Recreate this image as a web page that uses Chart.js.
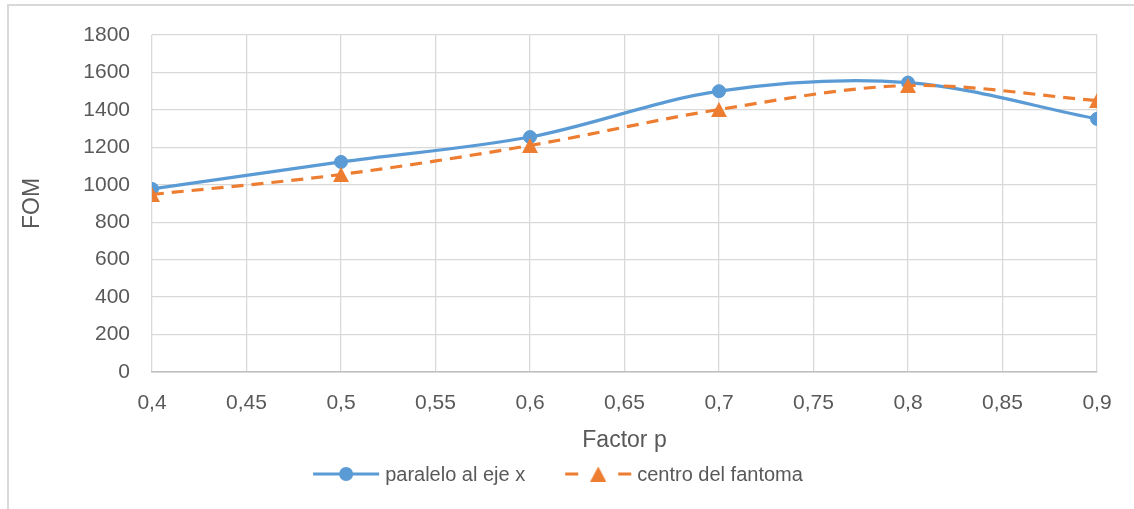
<!DOCTYPE html>
<html>
<head>
<meta charset="utf-8">
<script src="https://cdn.jsdelivr.net/npm/chart.js@4/dist/chart.umd.min.js"></script>
<style>
  html, body { margin: 0; padding: 0; background: #ffffff; }
  #wrap { position: relative; width: 1134px; height: 509px; }
</style>
</head>
<body>
<div id="wrap"><canvas id="fomChart" width="1134" height="509"></canvas></div>
<script>
// Factor p values and figure of merit for both phantom positions
const factorP = [0.4, 0.5, 0.6, 0.7, 0.8, 0.9];
const fomParalelo = [978, 1122, 1255, 1500, 1546, 1352];
const fomCentro = [948, 1055, 1210, 1402, 1530, 1450];
const seriesNames = ['paralelo al eje x', 'centro del fantoma'];
const xAxisTitle = 'Factor p';
const yAxisTitle = 'FOM';

const BLUE = '#5B9BD5';
const ORANGE = '#ED7D31';
const TEXT = '#595959';
const GRID = '#d9d9d9';
const FONT = "'Liberation Sans', Arial, sans-serif";

// Triangle marker centred on its bounding box
function makeTriangle(w, h, color) {
  const c = document.createElement('canvas');
  c.width = w; c.height = h;
  const g = c.getContext('2d');
  g.fillStyle = color;
  g.beginPath();
  g.moveTo(w / 2, 0);
  g.lineTo(w, h);
  g.lineTo(0, h);
  g.closePath();
  g.fill();
  return c;
}
const triangle = makeTriangle(16, 15, ORANGE);

const toPoints = (xs, ys) => xs.map((x, i) => ({ x: x, y: ys[i] }));

// Outer frame of the chart
const framePlugin = {
  id: 'frame',
  beforeDraw(chart) {
    const ctx = chart.ctx;
    ctx.save();
    ctx.fillStyle = '#ffffff';
    ctx.fillRect(0, 0, chart.width, chart.height);
    ctx.strokeStyle = GRID;
    ctx.lineWidth = 2;
    ctx.strokeRect(8, 5, chart.width + 10, chart.height + 10);
    ctx.restore();
  }
};

// Legend with line + marker samples, centred under the plot
const lineLegend = {
  id: 'lineLegend',
  afterDraw(chart) {
    const ctx = chart.ctx;
    const y = 474;
    const sampleW = 66, textGap = 6, itemGap = 40;
    ctx.save();
    ctx.font = '20px ' + FONT;
    ctx.textBaseline = 'middle';
    ctx.textAlign = 'left';
    const w0 = ctx.measureText(seriesNames[0]).width;
    const w1 = ctx.measureText(seriesNames[1]).width;
    const total = sampleW + textGap + w0 + itemGap + sampleW + textGap + w1;
    let x = 558 - total / 2;

    // solid blue sample
    ctx.strokeStyle = BLUE;
    ctx.lineWidth = 3;
    ctx.beginPath();
    ctx.moveTo(x, y);
    ctx.lineTo(x + sampleW, y);
    ctx.stroke();
    ctx.fillStyle = BLUE;
    ctx.beginPath();
    ctx.arc(x + sampleW / 2, y, 7, 0, Math.PI * 2);
    ctx.fill();
    x += sampleW + textGap;
    ctx.fillStyle = TEXT;
    ctx.fillText(seriesNames[0], x, y + 1);
    x += w0 + itemGap;

    // dashed orange sample
    ctx.strokeStyle = ORANGE;
    ctx.lineWidth = 3;
    ctx.beginPath();
    ctx.moveTo(x, y); ctx.lineTo(x + 13, y);
    ctx.moveTo(x + sampleW - 13, y); ctx.lineTo(x + sampleW, y);
    ctx.stroke();
    ctx.drawImage(triangle, x + sampleW / 2 - triangle.width / 2, y - triangle.height / 2);
    x += sampleW + textGap;
    ctx.fillStyle = TEXT;
    ctx.fillText(seriesNames[1], x, y + 1);
    ctx.restore();
  }
};

const fmtComma = v => (Math.round(v * 100) / 100).toString().replace('.', ',');

new Chart(document.getElementById('fomChart'), {
  type: 'line',
  data: {
    datasets: [
      {
        label: seriesNames[0],
        data: toPoints(factorP, fomParalelo),
        borderColor: BLUE,
        backgroundColor: BLUE,
        borderWidth: 3.2,
        tension: 0.33,
        pointStyle: 'circle',
        pointRadius: 6.5,
        pointBorderWidth: 1,
        pointBackgroundColor: BLUE,
        pointBorderColor: BLUE,
        order: 1
      },
      {
        label: seriesNames[1],
        data: toPoints(factorP, fomCentro),
        borderColor: ORANGE,
        backgroundColor: ORANGE,
        borderWidth: 3.2,
        borderDash: [12, 8],
        tension: 0.33,
        pointStyle: triangle,
        pointRadius: 7,
        order: 0
      }
    ]
  },
  options: {
    responsive: false,
    animation: false,
    devicePixelRatio: 1,
    layout: { padding: { left: 10, right: 37, top: 35, bottom: 55 } },
    plugins: {
      legend: { display: false },
      tooltip: { enabled: false }
    },
    scales: {
      x: {
        type: 'linear',
        min: 0.4,
        max: 0.9,
        afterFit(scale) { scale.height = 82; },
        ticks: {
          stepSize: 0.05,
          color: TEXT,
          padding: 19,
          font: { family: FONT, size: 21 },
          callback: v => fmtComma(v)
        },
        grid: { color: GRID, lineWidth: 1.3, drawTicks: false },
        border: { display: true, color: '#bfbfbf', width: 1.5 },
        title: {
          display: true,
          text: xAxisTitle,
          color: TEXT,
          font: { family: FONT, size: 23 },
          padding: { top: 0, bottom: 0 }
        }
      },
      y: {
        min: 0,
        max: 1800,
        afterFit(scale) { scale.width = 142; },
        ticks: {
          stepSize: 200,
          color: TEXT,
          padding: 22,
          font: { family: FONT, size: 21 },
          callback: v => String(v)
        },
        grid: {
          color: ctx => (ctx.tick && ctx.tick.value === 0 ? '#bfbfbf' : GRID),
          lineWidth: 1.3,
          drawTicks: false
        },
        border: { display: false },
        title: {
          display: true,
          text: yAxisTitle,
          color: TEXT,
          font: { family: FONT, size: 23 },
          padding: { top: 9, bottom: 0 }
        }
      }
    }
  },
  plugins: [framePlugin, lineLegend]
});
</script>
</body>
</html>
